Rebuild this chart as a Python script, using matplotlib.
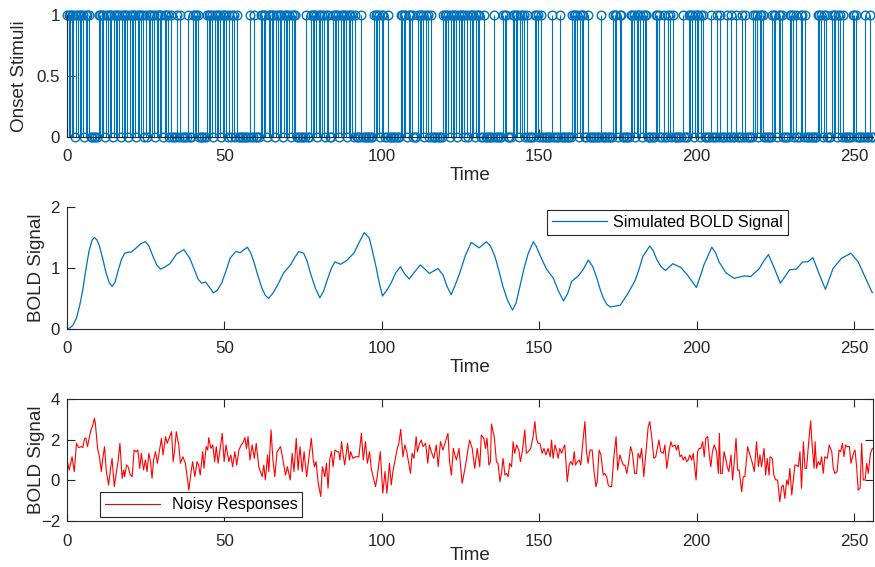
import numpy as np
import matplotlib
matplotlib.use("Agg")
import matplotlib.pyplot as plt

plt.rcParams['font.family'] = ['Liberation Sans', 'DejaVu Sans']

# ---------------- data ----------------
time = np.arange(0, 256.5, 0.5)

onset_times = [
    0, 0.5, 1, 1.5, 2, 3, 3.5, 4, 4.5, 5, 6, 6.5, 7,
    10, 10.5, 11, 11.5, 12.5, 13, 13.5, 14, 15, 15.5, 16, 16.5, 17.5, 18,
    18.5, 19, 20, 20.5, 21, 21.5, 22.5, 23, 23.5, 24, 25,
    26, 26.5, 27, 27.5, 28.5, 29, 29.5, 30, 31, 31.5, 32, 33,
    35, 36, 38.5, 40, 40.5, 41, 41.5,
    44.5, 45, 45.5, 46, 47, 47.5, 48, 48.5, 49.5, 50, 50.5, 51.5,
    52.5, 53, 54, 58, 59.5,
    61.5, 62, 62.5, 63, 64, 64.5, 65, 65.5, 66.5, 67, 67.5, 68, 69, 69.5,
    70, 70.5, 71.5, 72, 72.5,
    76,
    77.5, 78, 78.5, 79, 80, 80.5, 81, 81.5, 82.5, 83,
    84.5, 85, 85.5, 86, 87, 87.5, 88, 88.5, 89.5, 90, 90.5, 91.5,
    93.5,
    97.5, 98, 98.5, 99, 100, 100.5,
    102,
    106, 106.5, 107, 107.5, 108.5, 109, 109.5,
    111.5, 112, 112.5, 113, 114, 114.5, 115.5,
    119.5, 120, 120.5, 121, 122, 122.5, 123, 123.5, 124.5, 125, 125.5, 126,
    127,
    128, 128.5, 129, 130, 130.5, 131, 132.5, 135.5, 138.5, 139, 139.5,
    141.5, 142, 142.5, 143, 144, 144.5, 145, 146, 148.5, 149, 149.5, 150.5,
    154, 156.5, 160.5, 161, 161.5, 162, 163, 163.5, 164, 165.5, 169.5,
    173.5, 174, 174.5, 175.5, 176, 179, 179.5, 180, 181, 181.5, 182, 183,
    183.5, 184, 187, 187.5, 188, 189.5, 191, 191.5, 192.5, 195.5, 197.5,
    198, 198.5, 199.5, 200, 200.5, 201.5, 202, 204.5, 206.5, 207.5, 209.5,
    211, 212.5, 214.5, 215.5, 218, 218.5, 219, 220, 220.5, 221, 224, 224.5,
    225, 226, 226.5, 227, 229.5, 230, 230.5, 231.5, 233, 233.5, 234.5,
    238.5, 239, 239.5, 240.5, 241, 243, 243.5, 244, 245, 245.5, 246.5,
    249.5, 250, 250.5, 253.5, 255,
]

bold_t = [0, 1, 2, 3, 4, 5, 6, 7, 8, 8.7, 9.5, 10.3, 11.3, 12.4, 13.4, 14.3,
          15.2, 16.2, 17.3, 18.3, 19.4, 20.4, 22, 23.5, 24.9, 26, 27.3, 28.5,
          29.7, 31.2, 32.7, 34.8, 37.1, 39, 40.4, 41.7, 42.8, 44, 45.3, 46.5,
          47.8, 49.1, 50.5, 51.8, 53.6, 55, 56.2, 57.3, 58.3, 59.3, 60.6, 61.9,
          63, 64, 65.3, 66.7, 68.8, 71, 72.3, 73.6, 75.2, 76.2, 77.3, 78.8,
          80.3, 81.5, 82.7, 84, 85.1, 86.9, 89, 91.2, 92.8, 94.4, 96, 97,
          98.1, 99.2, 100.2, 101.5, 102.9, 104.4, 105.9, 107.3, 108.7, 110.5,
          112.2, 113.7, 115.1, 117.8, 119.4, 120.7, 122, 123.3, 124.7, 126.5,
          128.4, 130.9, 133.2, 134.5, 135.9, 137.2, 138.5, 140, 141.5, 142.6,
          143.8, 145.2, 146.5, 148.1, 149.1, 150.2, 152.3, 154.5, 156.1, 157.7,
          159, 160.3, 162.4, 164, 165.6, 167, 168.3, 169.4, 170.4, 171.5,
          172.6, 175.7, 177.9, 180.5, 181.7, 182.9, 185.1, 186.2, 187.4, 188.7,
          190.1, 192.4, 194.9, 197, 198.5, 199.9, 201.1, 202.3, 204.8, 206,
          207.1, 209.3, 211.9, 215.1, 217.2, 219.9, 221.4, 222.8, 224.7,
          226.6, 229.5, 231.6, 233.7, 235.3, 236.9, 239, 240.9, 243.3, 246,
          249, 251.3, 253.4, 255.7, 256]
bold_v = [0, 0.02, 0.07, 0.18, 0.38, 0.64, 0.98, 1.28, 1.46, 1.50, 1.46, 1.36,
          1.16, 0.92, 0.76, 0.70, 0.76, 0.95, 1.14, 1.24, 1.26, 1.26, 1.33, 1.40,
          1.43, 1.36, 1.19, 1.05, 0.98, 1.02, 1.07, 1.23, 1.30, 1.16, 0.98,
          0.81, 0.75, 0.77, 0.68, 0.59, 0.64, 0.75, 0.95, 1.16, 1.27, 1.25, 1.30,
          1.34, 1.25, 1.11, 0.88, 0.67, 0.55, 0.50, 0.58, 0.70, 0.92, 1.05, 1.17,
          1.27, 1.24, 1.12, 0.92, 0.68, 0.51, 0.62, 0.81, 1.00, 1.10, 1.06, 1.13,
          1.25, 1.42, 1.58, 1.49, 1.28, 1.03, 0.75, 0.54, 0.63, 0.75, 0.92,
          1.02, 0.90, 0.82, 0.94, 1.05, 0.98, 0.91, 0.99, 0.89, 0.70, 0.56,
          0.72, 0.91, 1.20, 1.42, 1.33, 1.43, 1.36, 1.19, 0.95, 0.69, 0.46,
          0.31, 0.42, 0.69, 1.00, 1.24, 1.43, 1.35, 1.21, 0.98, 0.83, 0.62,
          0.46, 0.58, 0.78, 0.87, 0.98, 1.13, 1.02, 0.83, 0.64, 0.50, 0.40,
          0.36, 0.39, 0.56, 0.80, 0.98, 1.19, 1.36, 1.28, 1.13, 1.02, 0.96,
          1.07, 1.01, 0.89, 0.78, 0.68, 0.86, 1.05, 1.34, 1.25, 1.10, 0.92,
          0.83, 0.87, 0.86, 0.99, 1.12, 1.22, 0.99, 0.75, 0.97, 0.98, 1.10,
          1.10, 1.17, 0.89, 0.65, 0.99, 1.16, 1.24, 1.10, 0.86, 0.60, 0.60]

noisy_t = [0.0, 0.7, 1.6, 2.3, 3.0, 3.7, 4.6, 5.0, 5.6, 6.0, 6.5, 6.9, 7.6, 8.2,
           8.7, 9.0, 9.7, 10.3, 10.9, 11.3, 11.9, 12.5, 13.2, 13.9, 14.3, 15.0,
           15.7, 16.2, 16.8, 17.5, 18.0, 18.3, 18.9, 19.4, 20.1, 20.7, 21.3,
           21.9, 22.5, 23.1, 23.6, 24.3, 24.9, 25.4, 26.0, 26.5, 27.0, 27.5,
           28.1, 28.7, 30.0, 30.5, 31.3, 31.8, 33.2, 33.7, 34.2, 34.7, 35.5,
           36.0, 36.8, 37.6, 38.7, 39.4, 39.9, 40.6, 41.3, 41.8, 42.3, 43.1,
           43.5, 44.2, 44.7, 45.0, 45.7, 46.3, 46.9, 47.4, 48.0, 49.3, 49.9,
           50.5, 51.4, 52.0, 52.6, 53.3, 53.9, 54.6, 55.3, 55.8, 56.5, 57.0,
           57.5, 58.1, 58.8, 59.5, 60.1, 60.9, 62.0, 62.5, 63.0, 63.7, 64.1,
           64.8, 65.4, 66.0, 66.7, 67.8, 68.5, 69.4, 70.0, 70.9, 71.5, 72.1,
           72.8, 73.4, 74.0, 74.7, 75.3, 76.1, 77.6, 78.2, 78.6, 79.1, 79.8,
           80.6, 81.1, 81.9, 82.4, 82.9, 83.5, 84.0, 84.5, 85.1, 85.8, 86.3,
           86.7, 87.2, 87.7, 88.2, 89.1, 89.7, 90.1, 90.8, 91.6, 92.7, 93.5,
           94.1, 94.8, 95.4, 96.1, 96.7, 98.0, 98.6, 99.5, 100.3, 101.0, 101.6,
           102.4, 103.0, 103.5, 104.1, 104.9, 105.4, 106.0, 106.7, 107.3, 107.9,
           109.1, 109.6, 110.2, 110.9, 111.3, 112.0, 112.5, 113.1, 113.9, 114.6,
           115.1, 115.7, 116.5, 117.3, 117.9, 118.6, 119.4, 120.2, 121.0, 121.5,
           122.1, 122.7, 123.2, 123.7, 124.5, 125.5, 126.6,
           127.4, 127.9, 128.7, 129.5, 130.3, 131.1, 131.6, 132.4, 132.9, 133.4,
           134.0, 134.5, 134.8, 135.7, 136.4, 136.9, 137.5, 138.0, 138.5, 139.1,
           139.6, 140.1, 140.6, 141.2, 141.7, 142.2, 142.8, 143.5, 144.0, 144.6,
           145.4, 145.9, 146.5, 147.3, 148.1, 148.6, 149.1, 149.6, 150.2, 150.9,
           151.5, 152.1, 152.8, 153.5, 153.9, 154.4, 155.0, 155.5, 156.0, 156.5,
           157.1, 157.6, 158.1, 158.9, 159.5, 160.0, 160.6, 161.1, 161.5, 162.1,
           162.7, 163.2, 163.9, 164.5, 165.0, 165.5, 166.1, 166.8, 167.4, 168.0,
           168.4, 169.0, 169.6, 170.3, 170.8, 171.4, 171.9, 172.4, 173.0, 173.7,
           174.4, 174.9, 175.6, 176.1, 176.7, 177.2, 177.8, 178.5, 179.0, 179.6,
           180.3, 180.9, 181.4, 182.0, 182.5, 183.2, 183.9, 184.6, 185.1, 185.7,
           186.4, 187.0, 187.5, 188.0, 188.6, 189.4, 189.9, 190.5, 191.2, 191.8,
           192.3, 193.1, 193.6, 194.1, 194.7, 195.2, 195.7, 196.3, 196.8, 197.3,
           197.8, 198.4, 198.9, 199.8, 200.3, 200.8, 201.3, 201.9, 202.4, 202.9,
           203.5, 204.0, 204.5, 205.0, 205.6, 206.3, 206.9, 207.2, 207.6, 208.1,
           208.7, 209.2, 209.7, 210.2, 210.9, 211.4, 211.9, 212.5, 213.0, 213.5,
           214.3, 214.8, 215.3, 216.2, 216.9, 217.7, 218.3, 219.0, 219.6, 220.1,
           220.6, 221.4, 221.9, 222.4, 223.0, 223.3, 224.0, 224.5, 225.1, 225.7,
           226.4, 227.0, 227.5, 228.0, 228.6, 229.1, 229.6, 230.2, 230.7, 231.2,
           231.7, 232.3, 232.8, 233.3, 233.9, 234.4, 234.9, 235.5, 236.2, 236.7,
           237.3, 237.6, 238.1, 238.6, 239.2, 239.7, 240.2, 240.7, 241.5, 242.1,
           242.9, 243.4, 243.9, 244.6, 245.2, 245.7, 246.3, 246.8, 247.3, 247.8,
           248.5, 249.0, 249.8, 250.3, 250.8, 251.3, 251.9, 252.4, 252.9, 253.5,
           254.0, 254.5, 255.2, 255.8]
noisy_v = [1.00, 0.51, 1.16, 0.43, 1.82, 1.61, 1.66, 1.61, 2.07, 2.07, 1.66, 1.98,
           2.48, 2.72, 3.05, 2.80, 1.57, 1.16, 0.43, 1.00, 1.66, 0.43, -0.23,
           0.67, 1.08, -0.31, 0.43, 0.92, 1.82, 0.10, 0.51, 0.18, 0.75, 0.67,
           0.26, 0.18, 1.49, 1.41, 1.49, 0.59, 1.33, 0.51, 1.00, 0.43, 1.33,
           0.92, 0.10, 1.00, 1.41, 0.84, 2.07, 1.25, 2.15, 1.82, 2.39, 0.92,
           1.49, 2.39, 1.74, 0.84, 1.16, 0.84, -0.48, 0.43, 0.92, 0.18, 0.92,
           0.75, 0.26, 1.41, 0.59, 1.66, 1.49, 2.10, 1.57, 1.74, 0.92, 1.66,
           0.84, 2.31, 0.92, 1.74, 0.92, 1.25, 0.67, 1.41, 0.75, 1.49, 1.74,
           1.82, 2.10, 1.57, 2.15, 1.00, 1.74, 1.08, 1.82, 0.67, 0.18, 0.75,
           0.02, 1.25, 0.43, 2.48, 1.00, 0.18, 1.41, 1.66, 1.08, 0.26, 0.67,
           0.02, 1.33, 0.43, 2.07, 0.51, 1.66, 0.43, 1.41, 0.18, 2.07, 1.00,
           0.67, 0.92, -0.15, -0.80, 0.67, 0.18, 0.84, -0.39, 1.08, 1.41, 0.67,
           1.49, 1.41, 1.41, 1.00, 1.90, 1.25, 0.75, 1.82, 1.00, 1.41, 1.08,
           1.16, 1.16, 2.31, 1.00, 1.90, 0.84, 1.41, 0.51, -0.31, 0.26, 1.41,
           -0.64, 0.43, -0.64, 0.84, -0.23, 0.43, 0.92, 1.57, 1.82, 2.51, 1.16,
           1.74, 1.41, 0.34, 1.33, 1.08, 2.15, 1.41, 1.82, 1.98, 1.66, 1.82,
           0.84, 1.74, 1.41, 1.08, 1.74, 0.67, 1.90, 1.49, 1.90, 2.31, 0.92,
           0.26, 1.57, 1.25, 1.00, 1.57, -0.15, 0.75,
           1.57, 1.98, 1.57, 0.59, 1.57, 0.67, 2.23, 2.07, 1.57, 2.07,
           0.75, 0.92, 2.77, 2.15, 0.92, 0.84, -0.07, 0.34, 1.08, 0.26,
           0.34, 0.18, 0.84, 0.67, 1.90, 1.33, 1.74, 1.49, 0.92, 1.41,
           2.48, 1.33, 1.41, 1.57, 2.23, 2.89, 2.07, 1.82, 1.82, 1.33,
           1.57, 1.25, 1.57, 1.16, 1.98, 1.08, 1.74, 1.49, 1.08, 1.57,
           1.33, 1.57, 1.74, -0.07, 0.75, 0.92, 0.75, 1.41, 0.75, 0.92,
           1.00, 0.75, 1.98, 2.89, 1.41, 0.84, 1.49, 1.49, 0.43, -0.31,
           -0.07, 1.49, 1.25, 0.26, 0.34, 0.18, -0.23, -0.31, -0.31, 1.16,
           2.15, 0.51, 1.25, 1.00, 0.75, 0.75, 0.34, 1.00, 1.66, 1.33,
           0.34, 0.34, 1.33, 1.08, 1.57, 0.18, 1.41, 2.64, 2.89, 2.15,
           1.08, 1.16, 1.57, 1.98, 1.41, 1.33, 1.74, 0.59, 1.41, 1.90,
           1.66, 1.74, 1.49, 1.74, 1.16, 1.25, 1.00, 1.16, 0.92, 1.00,
           1.25, 1.00, 1.33, 0.02, 1.41, 1.57, 1.57, 1.90, 1.16, 2.07,
           2.15, 1.25, 0.67, 1.41, 1.74, 1.41, 0.34, 2.31, 0.34, 0.34,
           1.41, 1.08, 0.67, 0.43, 1.25, 0.02, 0.84, 2.07, 0.51, 0.51,
           -0.56, 0.18, 0.18, 1.66, 1.25, 0.84, 0.43, 1.90, 0.67, 1.25,
           0.67, 1.57, 0.26, 1.08, 0.26, 1.16, 1.08, 0.26, 0.02, 0.02,
           -1.05, -0.31, -0.23, -0.89, 0.02, -0.23, 0.59, -0.72, 0.02, 0.75,
           0.75, 0.67, 1.41, -0.39, 1.90, 0.59, 0.59, 1.74, 2.92, 1.66,
           0.59, 1.90, 0.59, 0.92, 0.75, 1.16, 0.34, 1.16, 1.08, 1.74,
           1.41, 0.59, 0.34, 0.43, 1.49, 1.41, 1.82, 1.16, 1.74, 1.66,
           1.66, 0.84, 1.33, 1.49, 0.67, -0.48, -0.39, 1.82, 0.02, 0.02,
           0.84, 0.34, 1.33, 1.57]

stim = np.isin(time, onset_times).astype(float)

# ---------------- style ----------------
BLUE = '#0072BD'
AXC = '#262626'
TICK_FS = 12.2
LABEL_FS = 13.6
LEG_FS = 11.6

fig = plt.figure(figsize=(8.75, 5.67), dpi=100)

L, W, H = 0.0766, 0.9211, 0.2152


def style(ax, box=False, ylabel='', ylabelpad=4, xlabelpad=2):
    for s in ax.spines.values():
        s.set_color(AXC)
        s.set_linewidth(0.8)
    if not box:
        ax.spines['top'].set_visible(False)
        ax.spines['right'].set_visible(False)
    ax.tick_params(direction='in', length=5.5, width=0.8, colors=AXC,
                   labelsize=TICK_FS, labelcolor=AXC,
                   top=box, right=box)
    ax.tick_params(axis='x', pad=9)
    ax.tick_params(axis='y', pad=5)
    ax.set_xlim(0, 256)
    ax.set_xticks([0, 50, 100, 150, 200, 250])
    ax.set_xlabel('Time', fontsize=LABEL_FS, color=AXC, labelpad=xlabelpad)
    ax.set_ylabel(ylabel, fontsize=LABEL_FS, color=AXC, labelpad=ylabelpad)
    ax.set_facecolor('white')


# --- top: stem plot ---
ax1 = fig.add_axes([L, 0.7584, W, H])
mk, sl, bl = ax1.stem(time, stim, linefmt='-', markerfmt='o', basefmt=' ')
sl.set_color(BLUE)
sl.set_linewidth(0.8)
mk.set_markerfacecolor('none')
mk.set_markeredgecolor(BLUE)
mk.set_markersize(6.2)
mk.set_markeredgewidth(1.0)
mk.set_clip_on(False)
ax1.set_ylim(0, 1)
ax1.set_yticks([0, 0.5, 1])
ax1.set_yticklabels(['0', '0.5', '1'])
style(ax1, ylabel='Onset Stimuli', ylabelpad=6)

# --- middle: BOLD signal ---
ax2 = fig.add_axes([L, 0.4198, W, H])
ax2.plot(bold_t, bold_v, color=BLUE, lw=0.9, label='Simulated BOLD Signal')
ax2.set_ylim(0, 2)
ax2.set_yticks([0, 1, 2])
style(ax2, ylabel='BOLD Signal', ylabelpad=4)
leg2 = ax2.legend(loc='upper left', bbox_to_anchor=(0.596, 0.975),
                  borderaxespad=0, fontsize=LEG_FS, fancybox=False,
                  edgecolor=AXC, framealpha=1, handlelength=3.4,
                  handletextpad=0.4, borderpad=0.3)
leg2.get_frame().set_linewidth(0.8)

# --- bottom: noisy responses ---
ax3 = fig.add_axes([L, 0.0811, W, H])
ax3.plot(noisy_t, noisy_v, color='#FF0000', lw=0.8, label='Noisy Responses')
ax3.set_ylim(-2, 4)
ax3.set_yticks([-2, 0, 2, 4])
style(ax3, box=True, ylabel='BOLD Signal', ylabelpad=-3, xlabelpad=-1)
leg3 = ax3.legend(loc='lower left', bbox_to_anchor=(0.041, 0.033),
                  borderaxespad=0, fontsize=LEG_FS, fancybox=False,
                  edgecolor=AXC, framealpha=1, handlelength=3.4,
                  handletextpad=0.75, borderpad=0.3)
leg3.get_frame().set_linewidth(0.8)

fig.savefig('out.png', dpi=100, facecolor='white')
